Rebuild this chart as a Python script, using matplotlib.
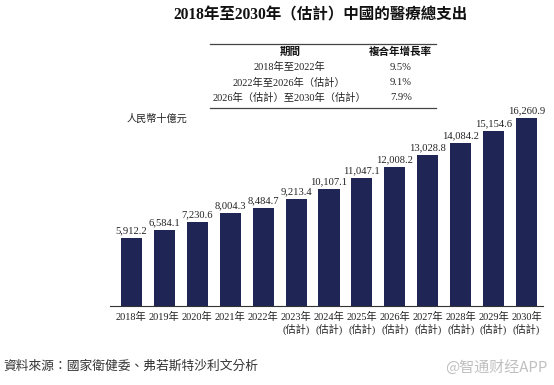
import matplotlib
matplotlib.use("Agg")
import matplotlib.pyplot as plt
from matplotlib.lines import Line2D

years = ["2018年", "2019年", "2020年", "2021年", "2022年", "2023年", "2024年",
         "2025年", "2026年", "2027年", "2028年", "2029年", "2030年"]
estimated = [False, False, False, False, False, True, True, True, True, True, True, True, True]
values = [5912.2, 6584.1, 7230.6, 8004.3, 8484.7, 9213.4, 10107.1,
          11047.1, 12008.2, 13028.8, 14084.2, 15154.6, 16260.9]

table_header = ["期間", "複合年增長率"]
table_periods = ["2018年至2022年", "2022年至2026年（估計）", "2026年（估計）至2030年（估計）"]
table_cagr = ["9.5%", "9.1%", "7.9%"]

title = "2018年至2030年（估計）中國的醫療總支出"
unit_label = "人民幣十億元"
source = "資料來源：國家衛健委、弗若斯特沙利文分析"
watermark = "@智通财经APP"

SERIF = ["Liberation Serif", "Noto Sans CJK TC"]
plt.rcParams["font.family"] = SERIF

W, H = 554, 385
fig = plt.figure(figsize=(W / 100, H / 100), dpi=100)

def fx(px):
    return px / W

def fy(py):
    return 1 - py / H

ymax = 17000
top_px = 306 - 188 * ymax / 16260.9
ax = fig.add_axes([fx(110), fy(306), fx(543) - fx(110), fy(top_px) - fy(306)])

x = list(range(len(values)))
ax.bar(x, values, width=0.64, color="#1f2555")
for xi, v in zip(x, values):
    ax.annotate(f"{v:,.1f}", (xi, v), xytext=(0, 2), textcoords="offset points",
                ha="center", va="bottom", fontsize=7.6, color="#222222")

labels = [y + ("\n(估計)" if e else "") for y, e in zip(years, estimated)]
ax.set_xticks(x)
ax.set_xticklabels(labels, fontsize=7.4, color="#222222", linespacing=1.15, va="top")
ax.tick_params(axis="x", length=0, pad=4)
ax.set_yticks([])
ax.set_xlim(-0.65, 12.5)
ax.set_ylim(0, ymax)
for s in ["top", "right", "left"]:
    ax.spines[s].set_visible(False)
ax.spines["bottom"].set_color("#333333")
ax.spines["bottom"].set_linewidth(0.8)

# Title
fig.text(fx(321), fy(15), title, ha="center", va="center", fontsize=11.2,
         fontweight="bold", color="#111111")

# Table
fig.add_artist(Line2D([fx(210), fx(436)], [fy(44), fy(44)], color="#444444", lw=0.9))
fig.add_artist(Line2D([fx(210), fx(436)], [fy(108), fy(108)], color="#444444", lw=0.9))
fig.text(fx(290), fy(52), table_header[0], ha="center", va="center", fontsize=7.6,
         fontweight="bold", color="#111111")
fig.text(fx(400), fy(52), table_header[1], ha="center", va="center", fontsize=7.6,
         fontweight="bold", color="#111111")
for i, (p, c) in enumerate(zip(table_periods, table_cagr)):
    yy = 67 + 15.5 * i
    fig.text(fx(289), fy(yy), p, ha="center", va="center", fontsize=7.4, color="#222222")
    fig.text(fx(401), fy(yy), c, ha="center", va="center", fontsize=7.6, color="#222222")

# Unit label
fig.text(fx(127), fy(119), unit_label, ha="left", va="center", fontsize=7.3, color="#222222")

# Source
fig.text(fx(3), fy(367), source, ha="left", va="center", fontsize=9.2, color="#333333",
         style="italic")
fig.text(fx(547), fy(367), watermark, ha="right", va="center", fontsize=10.8,
         color="#c0c0c0", family=["Noto Sans CJK SC", "DejaVu Sans"])

fig.savefig("out.png", dpi=100, facecolor="white")
